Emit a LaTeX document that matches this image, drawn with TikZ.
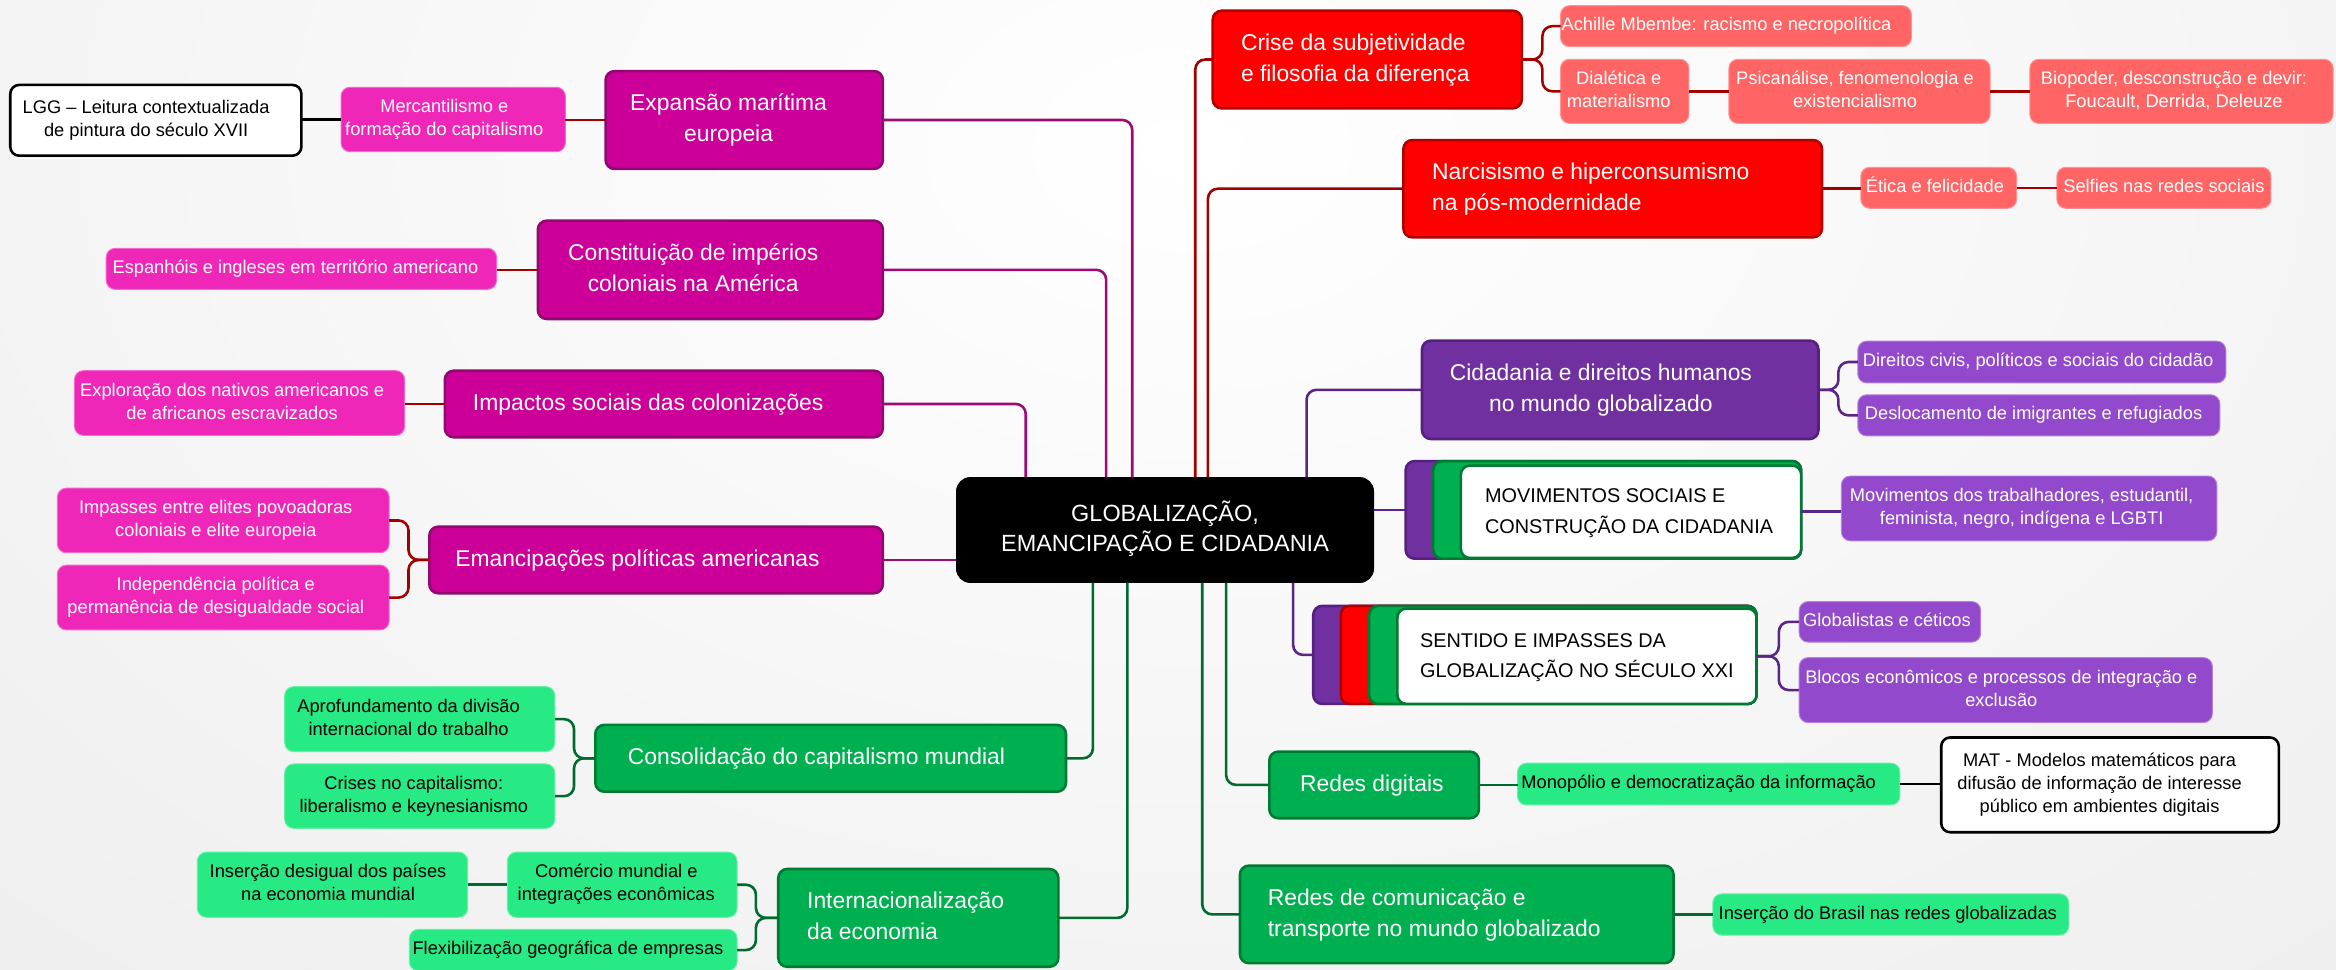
\documentclass[tikz,border=0pt]{standalone}
\usepackage{fontspec}
\setmainfont{Liberation Sans}
\usetikzlibrary{calc}
\definecolor{magM}{HTML}{CC0099}
\definecolor{magB}{HTML}{8E0A6E}
\definecolor{magS}{HTML}{EE27B9}
\definecolor{magL}{HTML}{9C0A72}
\definecolor{dred}{HTML}{A00000}
\definecolor{redM}{HTML}{FF0000}
\definecolor{redB}{HTML}{B00000}
\definecolor{redS}{HTML}{FF6565}
\definecolor{purM}{HTML}{7030A0}
\definecolor{purB}{HTML}{55207F}
\definecolor{purS}{HTML}{9249CB}
\definecolor{purL}{HTML}{5B2585}
\definecolor{grnM}{HTML}{00B050}
\definecolor{grnB}{HTML}{007A33}
\definecolor{grnS}{HTML}{27EA84}
\definecolor{grnL}{HTML}{006B2E}
\newcommand\mainf{\fontsize{11.5}{15.6}\selectfont}
\newcommand\subf{\fontsize{9.2}{11.6}\selectfont}
\newcommand\cenf{\fontsize{11.8}{15.1}\selectfont}
\newcommand\capf{\fontsize{10}{15.4}\selectfont}
\newcommand\ctx[2]{\begin{tabular}{@{}c@{}}#2\end{tabular}\kern\dimexpr#1pt*3/4\relax}
\newcommand\ltx[2]{\makebox[\dimexpr#1pt*3/4\relax][l]{\begin{tabular}{@{}l@{}}#2\end{tabular}}}
\begin{document}
\begin{tikzpicture}[x=0.75pt,y=-0.75pt,
  rect/.style n args={4}{minimum width={(#3-#1)*0.75pt}, minimum height={(#4-#2)*0.75pt},
     at={({(#1+#3)/2},{(#2+#4)/2})}},
  bx/.style={inner sep=0pt, outer sep=0pt, rounded corners=4.5pt},
  mainbox/.style={bx, line width=1.3pt, text=white, font=\mainf},
  subbox/.style={bx, line width=0.5pt, font=\subf},
  magmain/.style={mainbox, fill=magM, draw=magB},
  magsub/.style={subbox, fill=magS, draw=magS!70!white, text=white},
  redmain/.style={mainbox, fill=redM, draw=redB},
  redsub/.style={subbox, fill=redS, draw=redS!70!white, text=white},
  purmain/.style={mainbox, fill=purM, draw=purB},
  pursub/.style={subbox, fill=purS, draw=purS!70!white, text=white},
  grnmain/.style={mainbox, fill=grnM, draw=grnB},
  grnsub/.style={subbox, fill=grnS, draw=grnS!70!white, text=black},
  whitebox/.style={bx, line width=1.3pt, fill=white, draw=black, text=black, font=\subf},
  stackbox/.style={bx, line width=1.3pt, fill=white, draw=grnB, text=black, font=\capf},
  conn/.style={line width=1.3pt, rounded corners=5pt},
  cM/.style={conn, draw=magL},
  cR/.style={conn, draw=dred},
  cP/.style={conn, draw=purL},
  cG/.style={conn, draw=grnL},
  cK/.style={conn, draw=black}
]
\useasboundingbox (0,0) rectangle (1568,651);
\begin{scope}
\clip (0,0) rectangle (1568,651);
\shade[inner color=white, outer color=black!11] (-1200,-1200) rectangle (2800,1400);
\end{scope}

% central
\node[bx, rounded corners=7pt, fill=black, draw=black, text=white, font=\cenf,
  rect={642}{320.5}{922}{391}] (cen) {\ctx{0}{GLOBALIZAÇÃO,\\EMANCIPAÇÃO E CIDADANIA}};

% magenta
\node[magmain, rect={406.5}{47.7}{592.6}{113.4}] (exp) {\ctx{21}{Expansão marítima\\europeia}};
\node[magmain, rect={361}{148.1}{592.6}{214.1}] (con) {\ctx{23}{Constituição de impérios\\coloniais na América}};
\node[magmain, rect={298.6}{248.8}{592.6}{293.5}] (imp) {\ctx{21}{Impactos sociais das colonizações}};
\node[magmain, rect={288.2}{353.5}{592.6}{398.2}] (emp) {\ctx{25}{Emancipações políticas americanas}};
\node[whitebox, rect={6.9}{57}{202.3}{104.5}] (lgg) {\ctx{13}{LGG – Leitura contextualizada\\de pintura do século XVII}};
\node[magsub, rect={228.9}{58.6}{379.5}{101.8}] (mer) {\ctx{12}{Mercantilismo e\\formação do capitalismo}};
\node[magsub, rect={71.3}{166.7}{333.3}{194.2}] (esp) {\ctx{8}{Espanhóis e ingleses em território americano}};
\node[magsub, rect={50}{248.8}{271.6}{292.2}] (exq) {\ctx{10}{Exploração dos nativos americanos e\\de africanos escravizados}};
\node[magsub, rect={38.5}{327.7}{261.2}{371}] (ipa) {\ctx{10}{Impasses entre elites povoadoras\\coloniais e elite europeia}};
\node[magsub, rect={38.5}{379.4}{261.2}{422.8}] (ind) {\ctx{10}{Independência política e\\permanência de desigualdade social}};

% green left
\node[grnmain, rect={399.6}{486.6}{715.5}{531.4}] (cons) {\ctx{19}{Consolidação do capitalismo mundial}};
\node[grnsub, rect={191.1}{460.9}{372.4}{504.5}] (apr) {\ctx{15}{Aprofundamento da divisão\\internacional do trabalho}};
\node[grnsub, rect={191.1}{512.8}{372.4}{556}] (cri) {\ctx{8}{Crises no capitalismo:\\liberalismo e keynesianismo}};
\node[grnmain, rect={522.4}{583.3}{710.4}{648.9}] (intl) {\ltx{149.2}{Internacionalização\\da economia}};
\node[grnsub, rect={340.6}{572}{494.7}{615.7}] (com) {\ctx{8}{Comércio mundial e\\integrações econômicas}};
\node[grnsub, rect={132.5}{572}{313.9}{615.7}] (ins) {\ctx{6}{Inserção desigual dos países\\na economia mundial}};
\node[grnsub, rect={274.8}{623.8}{494.7}{651.6}] (flx) {\ctx{7}{Flexibilização geográfica de empresas}};

% red
\node[redmain, rect={814}{7.2}{1021.5}{72.7}] (crs) {\ltx{169.5}{Crise da subjetividade\\e filosofia da diferença}};
\node[redmain, rect={942}{94}{1223}{159.3}] (nar) {\ltx{242.4}{Narcisismo e hiperconsumismo\\na pós-modernidade}};
\node[redsub, rect={1047.5}{3.8}{1283}{31.3}] (ach) {\ctx{12.7}{Achille Mbembe: racismo e necropolítica}};
\node[redsub, rect={1047.5}{39.8}{1133.6}{82.8}] (dia) {\ctx{8}{Dialética e\\materialismo}};
\node[redsub, rect={1160.5}{39.8}{1335.8}{82.8}] (psi) {\ctx{6}{Psicanálise, fenomenologia e\\existencialismo}};
\node[redsub, rect={1362.5}{39.8}{1566}{82.8}] (bio) {\ctx{10}{Biopoder, desconstrução e devir:\\Foucault, Derrida, Deleuze}};
\node[redsub, rect={1249}{112.3}{1353.6}{139.8}] (eti) {\ctx{5}{Ética e felicidade}};
\node[redsub, rect={1380.6}{112.3}{1524.3}{139.8}] (sel) {\ctx{0}{Selfies nas redes sociais}};

% purple
\node[purmain, rect={954.5}{228.6}{1220.6}{294.7}] (cid) {\ctx{26}{Cidadania e direitos humanos\\no mundo globalizado}};
\node[pursub, rect={1247}{229}{1494}{257}] (dir) {\ctx{5}{Direitos civis, políticos e sociais do cidadão}};
\node[pursub, rect={1247}{265}{1490}{292.6}] (des) {\ctx{7}{Deslocamento de imigrantes e refugiados}};
\node[purmain, rect={943.5}{309.5}{1209}{375}] (movA) {};
\node[grnmain, rect={962}{309.5}{1209}{375}] (movB) {};
\node[stackbox, rect={980.6}{312.5}{1209}{374.5}] (mov) {\ltx{196}{MOVIMENTOS SOCIAIS E\\CONSTRUÇÃO DA CIDADANIA}};
\node[pursub, rect={1236}{319.5}{1488}{363}] (mvs) {\ctx{10}{Movimentos dos trabalhadores, estudantil,\\feminista, negro, indígena e LGBTI}};
\node[purmain, rect={881.5}{406.7}{1179}{472.5}] (senA) {};
\node[redmain, rect={900}{406.7}{1179}{472.5}] (senB) {};
\node[grnmain, rect={919}{406.7}{1179}{472.5}] (senC) {};
\node[stackbox, rect={938}{408.5}{1179}{472.5}] (sen) {\ltx{210.6}{SENTIDO E IMPASSES DA\\GLOBALIZAÇÃO NO SÉCULO XXI}};
\node[pursub, rect={1207.7}{403.8}{1329.5}{431}] (glo) {\ctx{4}{Globalistas e céticos}};
\node[pursub, rect={1207.7}{441.4}{1485}{485}] (blo) {\ctx{6}{Blocos econômicos e processos de integração e\\exclusão}};

% green right
\node[grnmain, rect={852}{504.5}{992.7}{549.2}] (rdg) {\ctx{3}{Redes digitais}};
\node[grnsub, rect={1018.6}{512.3}{1275.3}{540.3}] (mon) {\ctx{13.5}{Monopólio e democratização da informação}};
\node[whitebox, rect={1303}{495}{1529.6}{558.6}] (mat) {\ctx{14}{MAT - Modelos matemáticos para\\difusão de informação de interesse\\público em ambientes digitais}};
\node[grnmain, rect={832.3}{581}{1123.3}{646.5}] (rdc) {\ltx{253.6}{Redes de comunicação e\\transporte no mundo globalizado}};
\node[grnsub, rect={1149.7}{600}{1388.6}{627.6}] (bra) {\ctx{4}{Inserção do Brasil nas redes globalizadas}};

% connectors from centre
\draw[cM] ($(cen.north)+(-22,0)$) |- (exp.east);
\draw[cM] ($(cen.north)+(-39.5,0)$) |- (con.east);
\draw[cM] ($(cen.north)+(-93.5,0)$) |- (imp.east);
\draw[cM] (emp.east) -- (emp.east -| cen.west);
\draw[cR] ($(cen.north)+(20.3,0)$) |- (crs.west);
\draw[cR] ($(cen.north)+(28.8,0)$) |- (nar.west);
\draw[cP] ($(cen.north)+(95,0)$) |- (cid.west);
\draw[cP] (movA.west -| cen.east) -- (movA.west);
\draw[cG] ($(cen.south)+(-48.4,0)$) |- (cons.east);
\draw[cG] ($(cen.south)+(-25.3,0)$) |- (intl.east);
\draw[cP] ($(cen.south)+(86,0)$) |- (senA.west);
\draw[cG] ($(cen.south)+(41,0)$) |- (rdg.west);
\draw[cG] ($(cen.south)+(25,0)$) |- (rdc.west);

% sub connectors
\draw[cR] (exp.west) -- (exp.west -| mer.east);
\draw[cK] (mer.west) -- (mer.west -| lgg.east);
\draw[cR] (con.west) -- (con.west -| esp.east);
\draw[cR] (imp.west) -- (imp.west -| exq.east);
\draw[cR] (emp.west) -- ++(-14,0) |- (ipa.east);
\draw[cR] (emp.west) -- ++(-14,0) |- (ind.east);
\draw[cG] (cons.west) -- ++(-14.3,0) |- (apr.east);
\draw[cG] (cons.west) -- ++(-14.3,0) |- (cri.east);
\draw[cG] (intl.west) -- ++(-15,0) |- (com.east);
\draw[cG] (intl.west) -- ++(-15,0) |- (flx.east);
\draw[cG] (com.west) -- (com.west -| ins.east);
\draw[cR] (crs.east) -- ++(13.8,0) |- (ach.west);
\draw[cR] (crs.east) -- ++(13.8,0) |- (dia.west);
\draw[cR] (dia.east) -- (dia.east -| psi.west);
\draw[cR] (psi.east) -- (psi.east -| bio.west);
\draw[cR] (nar.east) -- (nar.east -| eti.west);
\draw[cR] (eti.east) -- (eti.east -| sel.west);
\draw[cP] (cid.east) -- ++(13.4,0) |- (dir.west);
\draw[cP] (cid.east) -- ++(13.4,0) |- (des.west);
\draw[cP] (mov.east) -- (mov.east -| mvs.west);
\draw[cP] (sen.east) -- ++(15,0) |- (glo.west);
\draw[cP] (sen.east) -- ++(15,0) |- (blo.west);
\draw[cG] (rdg.east) -- (rdg.east -| mon.west);
\draw[cK] (mon.east) -- (mon.east -| mat.west);
\draw[cG] (rdc.east) -- (rdc.east -| bra.west);
\end{tikzpicture}
\end{document}
